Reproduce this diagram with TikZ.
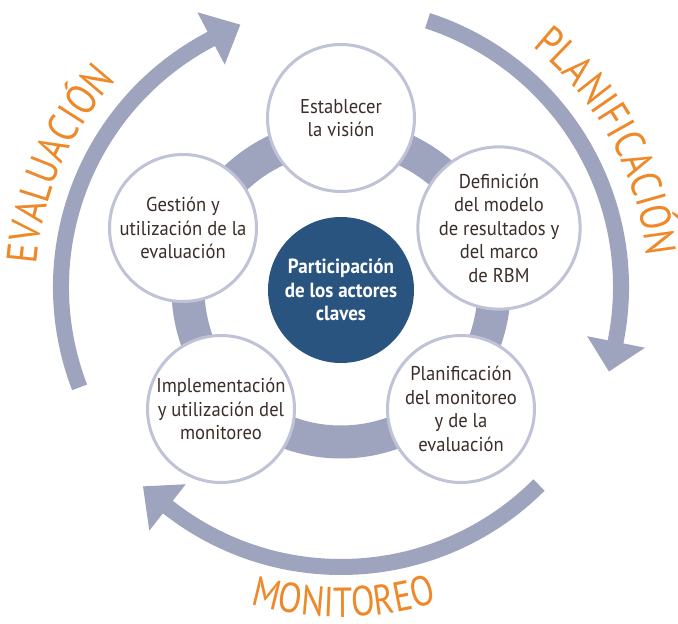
\documentclass[tikz,border=0pt]{standalone}
\usepackage{fontspec}
\setmainfont{PT Sans}[FakeStretch=0.93]
\newfontfamily\labelfont{PT Sans}[FakeStretch=0.84]
\newfontfamily\monifont{PT Sans}[FakeStretch=0.82]
\usetikzlibrary{decorations.text}
\definecolor{ringc}{RGB}{158,163,190}
\definecolor{circc}{RGB}{192,194,216}
\definecolor{darkb}{RGB}{41,84,128}
\definecolor{txtc}{RGB}{59,45,40}
\definecolor{orng}{RGB}{238,137,42}
\begin{document}
\begin{tikzpicture}[x=1pt,y=1pt,
  band/.style={line width=16pt, draw=ringc},
  stage/.style={circle, draw=circc, line width=3pt, fill=white, minimum size=147pt, inner sep=0pt, align=center, text=txtc, font=\fontsize{20}{23.5}\selectfont},
  core/.style={circle, fill=darkb, minimum size=146pt, inner sep=0pt, align=center, text=white, font=\bfseries\fontsize{20.5}{23.5}\selectfont}
]
\useasboundingbox (-341,-337) rectangle (337,287);
% outer cycle arrows
\draw[band] (201:280pt) arc[start angle=201, end angle=117.4, radius=280pt];
\fill[ringc] (117.6:251pt) -- (111:281pt) -- (117.6:310pt) -- cycle;
\draw[band] (72:280pt) arc[start angle=72, end angle=-11.5, radius=280pt];
\fill[ringc] (-11.3:251pt) -- (-17.5:281pt) -- (-11.3:310pt) -- cycle;
\draw[band] (-45:280pt) arc[start angle=-45, end angle=-128.4, radius=280pt];
\fill[ringc] (-128.2:251pt) -- (-134.8:281pt) -- (-128.2:310pt) -- cycle;
% curved labels
\path[decorate, decoration={text along path, text align=center, text color=orng,
  text={|\labelfont\fontsize{43}{43}\selectfont|EVALUACIÓN}}]
  (196.5:305pt) arc[start angle=196.5, end angle=116.5, radius=305pt];
\path[decorate, decoration={text along path, text align=center, text color=orng,
  text={|\labelfont\fontsize{43}{43}\selectfont|PLANIFICACIÓN}}]
  (68.6:307pt) arc[start angle=68.6, end angle=-11.4, radius=307pt];
\path[decorate, decoration={text along path, text align=center, text color=orng,
  text={|\monifont\fontsize{42}{42}\selectfont|MONITOREO}}]
  (-129.5:330pt) arc[start angle=-129.5, end angle=-49.5, radius=330pt];
% inner ring
\draw[ringc, line width=33pt] (0,-2) circle[radius=153pt];
% stages
\node[stage] (vision) at (0,169) {Establecer\\la visión};
\node[stage] (modelo) at (158,59) {Definición\\del modelo\\de resultados y\\del marco\\de RBM};
\node[stage] (planif) at (120,-122) {Planificación\\del monitoreo\\y de la\\evaluación};
\node[stage] (implem) at (-120,-122) {Implementación\\y utilización del\\monitoreo};
\node[stage] (gestion) at (-158,59) {Gestión y\\utilización de la\\evaluación};
\node[core] (actores) at (0,-3) {Participación\\de los actores\\claves};
\end{tikzpicture}
\end{document}
